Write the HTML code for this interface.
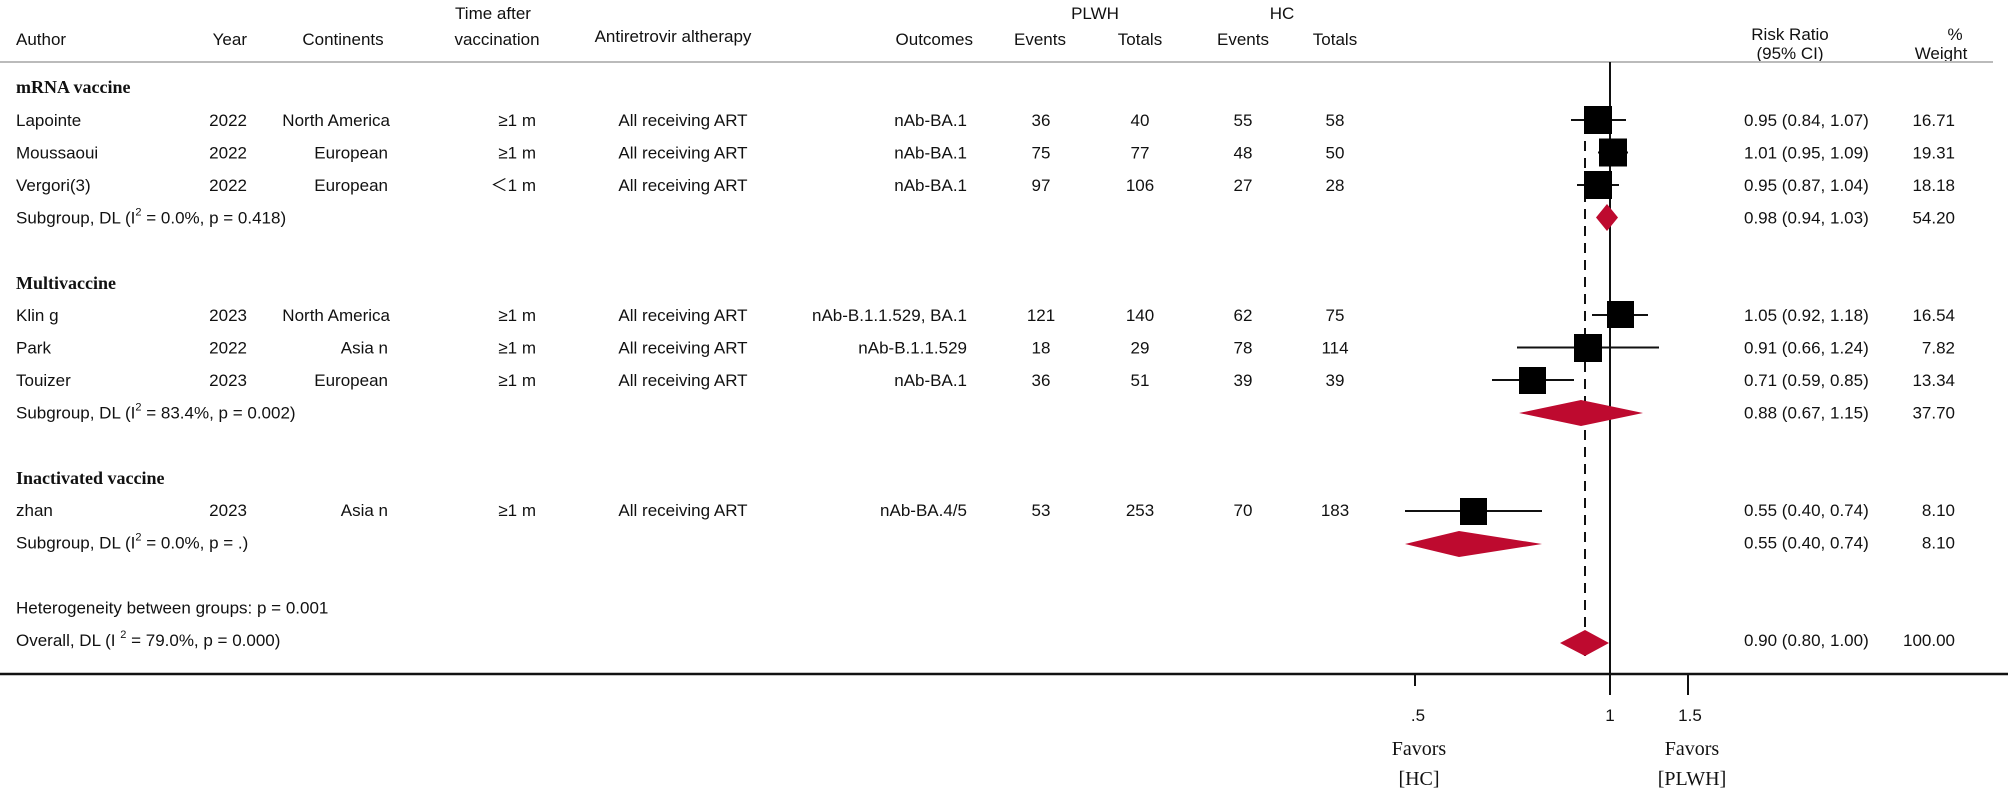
<!DOCTYPE html>
<html><head><meta charset="utf-8"><style>
html,body{margin:0;padding:0;background:#fff;}
svg{display:block;}
text{font-family:"Liberation Sans",sans-serif;font-size:17px;fill:#111;}
.b{font-family:"Liberation Serif",serif;font-weight:bold;font-size:18px;}
.s{font-family:"Liberation Serif",serif;font-size:20px;}
.sup{font-size:11px;}
</style></head><body>
<svg width="2008" height="791" viewBox="0 0 2008 791" xmlns="http://www.w3.org/2000/svg">
<!-- header -->
<text x="493" y="19" text-anchor="middle">Time after</text>
<text x="1095" y="19" text-anchor="middle">PLWH</text>
<text x="1282" y="19" text-anchor="middle">HC</text>
<text x="16" y="45">Author</text>
<text x="247" y="45" text-anchor="end">Year</text>
<text x="343" y="45" text-anchor="middle">Continents</text>
<text x="497" y="45" text-anchor="middle">vaccination</text>
<text x="673" y="42" text-anchor="middle">Antiretrovir altherapy</text>
<text x="973" y="45" text-anchor="end">Outcomes</text>
<text x="1040" y="45" text-anchor="middle">Events</text>
<text x="1140" y="45" text-anchor="middle">Totals</text>
<text x="1243" y="45" text-anchor="middle">Events</text>
<text x="1335" y="45" text-anchor="middle">Totals</text>
<text x="1790" y="40" text-anchor="middle">Risk Ratio</text>
<text x="1790" y="59" text-anchor="middle">(95% CI)</text>
<text x="1955" y="40" text-anchor="middle">%</text>
<text x="1941" y="59" text-anchor="middle">Weight</text>
<line x1="0" y1="62" x2="1993" y2="62" stroke="#bbb" stroke-width="2"/>

<!-- group headings -->
<text class="b" x="16" y="93">mRNA vaccine</text>
<text class="b" x="16" y="289">Multivaccine</text>
<text class="b" x="16" y="484">Inactivated vaccine</text>

<!-- rows -->
<g>
<text x="16" y="126">Lapointe</text><text x="247" y="126" text-anchor="end">2022</text><text x="390" y="126" text-anchor="end">North America</text><text x="536" y="126" text-anchor="end">≥1 m</text><text x="683" y="126" text-anchor="middle">All receiving ART</text><text x="967" y="126" text-anchor="end">nAb-BA.1</text><text x="1041" y="126" text-anchor="middle">36</text><text x="1140" y="126" text-anchor="middle">40</text><text x="1243" y="126" text-anchor="middle">55</text><text x="1335" y="126" text-anchor="middle">58</text><text x="1744" y="126">0.95 (0.84, 1.07)</text><text x="1955" y="126" text-anchor="end">16.71</text>

<text x="16" y="158.5">Moussaoui</text><text x="247" y="158.5" text-anchor="end">2022</text><text x="388" y="158.5" text-anchor="end">European</text><text x="536" y="158.5" text-anchor="end">≥1 m</text><text x="683" y="158.5" text-anchor="middle">All receiving ART</text><text x="967" y="158.5" text-anchor="end">nAb-BA.1</text><text x="1041" y="158.5" text-anchor="middle">75</text><text x="1140" y="158.5" text-anchor="middle">77</text><text x="1243" y="158.5" text-anchor="middle">48</text><text x="1335" y="158.5" text-anchor="middle">50</text><text x="1744" y="158.5">1.01 (0.95, 1.09)</text><text x="1955" y="158.5" text-anchor="end">19.31</text>

<text x="16" y="191">Vergori(3)</text><text x="247" y="191" text-anchor="end">2022</text><text x="388" y="191" text-anchor="end">European</text><text x="536" y="191" text-anchor="end">＜1 m</text><text x="683" y="191" text-anchor="middle">All receiving ART</text><text x="967" y="191" text-anchor="end">nAb-BA.1</text><text x="1041" y="191" text-anchor="middle">97</text><text x="1140" y="191" text-anchor="middle">106</text><text x="1243" y="191" text-anchor="middle">27</text><text x="1335" y="191" text-anchor="middle">28</text><text x="1744" y="191">0.95 (0.87, 1.04)</text><text x="1955" y="191" text-anchor="end">18.18</text>

<text x="16" y="223.5">Subgroup, DL (I<tspan class="sup" dy="-8">2</tspan><tspan dy="8"> = 0.0%, p = 0.418)</tspan></text><text x="1744" y="223.5">0.98 (0.94, 1.03)</text><text x="1955" y="223.5" text-anchor="end">54.20</text>

<text x="16" y="321">Klin g</text><text x="247" y="321" text-anchor="end">2023</text><text x="390" y="321" text-anchor="end">North America</text><text x="536" y="321" text-anchor="end">≥1 m</text><text x="683" y="321" text-anchor="middle">All receiving ART</text><text x="967" y="321" text-anchor="end">nAb-B.1.1.529, BA.1</text><text x="1041" y="321" text-anchor="middle">121</text><text x="1140" y="321" text-anchor="middle">140</text><text x="1243" y="321" text-anchor="middle">62</text><text x="1335" y="321" text-anchor="middle">75</text><text x="1744" y="321">1.05 (0.92, 1.18)</text><text x="1955" y="321" text-anchor="end">16.54</text>

<text x="16" y="353.5">Park</text><text x="247" y="353.5" text-anchor="end">2022</text><text x="388" y="353.5" text-anchor="end">Asia n</text><text x="536" y="353.5" text-anchor="end">≥1 m</text><text x="683" y="353.5" text-anchor="middle">All receiving ART</text><text x="967" y="353.5" text-anchor="end">nAb-B.1.1.529</text><text x="1041" y="353.5" text-anchor="middle">18</text><text x="1140" y="353.5" text-anchor="middle">29</text><text x="1243" y="353.5" text-anchor="middle">78</text><text x="1335" y="353.5" text-anchor="middle">114</text><text x="1744" y="353.5">0.91 (0.66, 1.24)</text><text x="1955" y="353.5" text-anchor="end">7.82</text>

<text x="16" y="386">Touizer</text><text x="247" y="386" text-anchor="end">2023</text><text x="388" y="386" text-anchor="end">European</text><text x="536" y="386" text-anchor="end">≥1 m</text><text x="683" y="386" text-anchor="middle">All receiving ART</text><text x="967" y="386" text-anchor="end">nAb-BA.1</text><text x="1041" y="386" text-anchor="middle">36</text><text x="1140" y="386" text-anchor="middle">51</text><text x="1243" y="386" text-anchor="middle">39</text><text x="1335" y="386" text-anchor="middle">39</text><text x="1744" y="386">0.71 (0.59, 0.85)</text><text x="1955" y="386" text-anchor="end">13.34</text>

<text x="16" y="418.5">Subgroup, DL (I<tspan class="sup" dy="-8">2</tspan><tspan dy="8"> = 83.4%, p = 0.002)</tspan></text><text x="1744" y="418.5">0.88 (0.67, 1.15)</text><text x="1955" y="418.5" text-anchor="end">37.70</text>

<text x="16" y="516">zhan</text><text x="247" y="516" text-anchor="end">2023</text><text x="388" y="516" text-anchor="end">Asia n</text><text x="536" y="516" text-anchor="end">≥1 m</text><text x="683" y="516" text-anchor="middle">All receiving ART</text><text x="967" y="516" text-anchor="end">nAb-BA.4/5</text><text x="1041" y="516" text-anchor="middle">53</text><text x="1140" y="516" text-anchor="middle">253</text><text x="1243" y="516" text-anchor="middle">70</text><text x="1335" y="516" text-anchor="middle">183</text><text x="1744" y="516">0.55 (0.40, 0.74)</text><text x="1955" y="516" text-anchor="end">8.10</text>

<text x="16" y="548.5">Subgroup, DL (I<tspan class="sup" dy="-8">2</tspan><tspan dy="8"> = 0.0%, p = .)</tspan></text><text x="1744" y="548.5">0.55 (0.40, 0.74)</text><text x="1955" y="548.5" text-anchor="end">8.10</text>

<text x="16" y="613.5">Heterogeneity between groups: p = 0.001</text>
<text x="16" y="646">Overall, DL (I <tspan class="sup" dy="-8">2</tspan><tspan dy="8"> = 79.0%, p = 0.000)</tspan></text><text x="1744" y="646">0.90 (0.80, 1.00)</text><text x="1955" y="646" text-anchor="end">100.00</text>
</g>

<!-- plot -->
<line x1="1585" y1="107" x2="1585" y2="656" stroke="#111" stroke-width="2" stroke-dasharray="10,7"/>
<line x1="1610" y1="62" x2="1610" y2="674" stroke="#111" stroke-width="2"/>
<g stroke="#111" stroke-width="2">
<line x1="1571" y1="120" x2="1626" y2="120"/>
<line x1="1598" y1="152.5" x2="1628" y2="152.5"/>
<line x1="1577" y1="185" x2="1619" y2="185"/>
<line x1="1592" y1="315" x2="1648" y2="315"/>
<line x1="1517" y1="347.5" x2="1659" y2="347.5"/>
<line x1="1492" y1="380" x2="1574" y2="380"/>
<line x1="1405" y1="511" x2="1542" y2="511"/>
</g>
<g fill="#000">
<rect x="1584" y="106" width="28" height="28"/>
<rect x="1599" y="138.5" width="28" height="28"/>
<rect x="1584" y="171" width="28" height="28"/>
<rect x="1607" y="301" width="27" height="27"/>
<rect x="1574" y="334" width="28" height="28"/>
<rect x="1519" y="367" width="27" height="27"/>
<rect x="1460" y="498" width="27" height="27"/>
</g>
<g fill="#BE0A2F">
<polygon points="1596,217.5 1607,204 1618,217.5 1607,231"/>
<polygon points="1519,413 1581,400 1643,413 1581,426"/>
<polygon points="1405,544 1459,531 1542,544 1459,557"/>
<polygon points="1560,643 1585,630 1609,643 1585,656"/>
</g>
<line x1="0" y1="674" x2="2008" y2="674" stroke="#111" stroke-width="2.5"/>
<g stroke="#111" stroke-width="2">
<line x1="1415" y1="674" x2="1415" y2="686"/>
<line x1="1610" y1="674" x2="1610" y2="695"/>
<line x1="1688" y1="674" x2="1688" y2="695"/>
</g>
<text x="1418" y="721" text-anchor="middle">.5</text>
<text x="1610" y="721" text-anchor="middle">1</text>
<text x="1690" y="721" text-anchor="middle">1.5</text>
<text class="s" x="1419" y="755" text-anchor="middle">Favors</text>
<text class="s" x="1419" y="785" text-anchor="middle">[HC]</text>
<text class="s" x="1692" y="755" text-anchor="middle">Favors</text>
<text class="s" x="1692" y="785" text-anchor="middle">[PLWH]</text>
</svg>
</body></html>
